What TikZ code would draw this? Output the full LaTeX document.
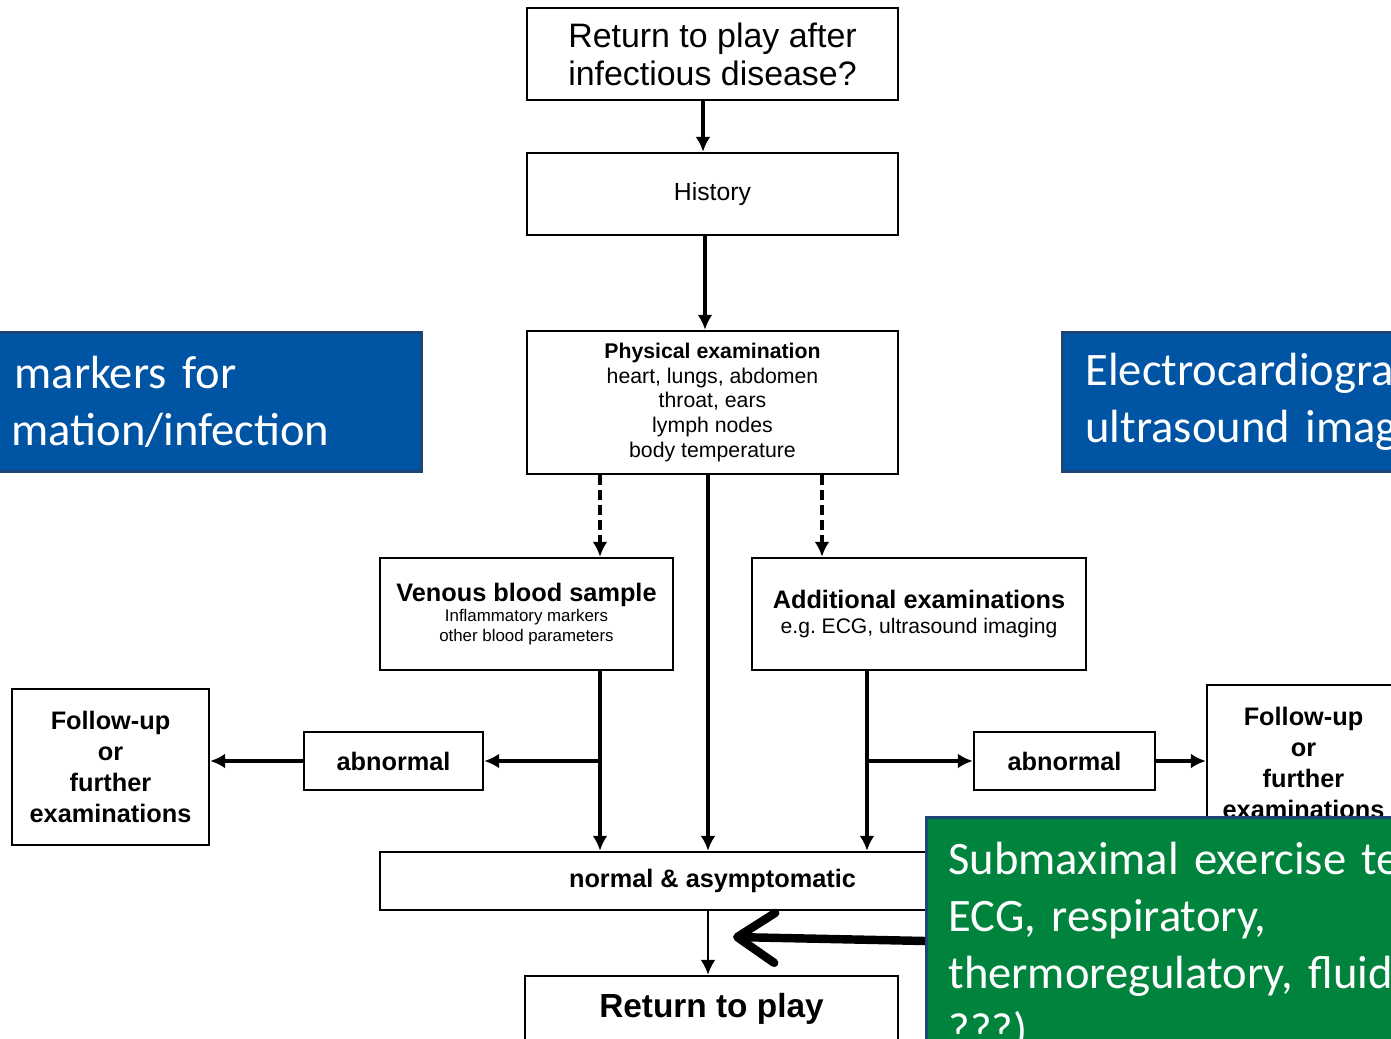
\documentclass[tikz,border=0pt]{standalone}
\usepackage{fontspec}
\setmainfont{Liberation Sans}
\newfontfamily\calibri{Carlito}
\newcommand\notefont{\calibri\fontsize{26.5}{32.4}\selectfont\spaceskip 0.24em\relax}
\usetikzlibrary{arrows.meta}
\definecolor{noteblue}{RGB}{0,84,164}
\definecolor{noteedge}{RGB}{31,68,118}
\definecolor{notegreen}{RGB}{0,132,61}

\begin{document}
\frenchspacing
\begin{tikzpicture}[line width=2.2pt, >={Latex[length=0.3cm,width=0.3cm]}]
		\tikzstyle{box}=[draw,shape=rectangle,line width=1.4pt,align=center,inner sep=0pt]
		\tikzstyle{bold_small}=[font=\bfseries\fontsize{14.4}{17.6}\selectfont]
		\tikzstyle{note}=[draw=noteedge,line width=1.7pt,text=white,align=left,inner sep=0pt,font=\notefont]
		\tikzstyle{dash_arrow}=[->,line width=2.8pt,dash pattern=on 0.2cm off 0.1cm]

		\useasboundingbox (0,0) rectangle (27.82,20.78);
		\clip (0,0) rectangle (27.82,20.78);

		\node[box,minimum width=7.42cm,minimum height=1.84cm,font=\fontsize{19.3}{21.6}\selectfont](q) at (14.25,19.70){Return to play after\\infectious disease?};
		\node[box,minimum width=7.42cm,minimum height=1.64cm,font=\fontsize{14.1}{17}\selectfont](hist) at (14.25,16.90){History};
		\node[box,minimum width=7.42cm,minimum height=2.86cm,font=\fontsize{12.1}{14.2}\selectfont](phys) at (14.25,12.73){\textbf{Physical examination}\\heart, lungs, abdomen\\throat, ears\\lymph nodes\\body temperature};

		\node[box,minimum width=5.86cm,minimum height=2.24cm,font=\fontsize{9.6}{11.4}\selectfont](venous) at (10.53,8.50){{\bfseries\fontsize{14.4}{17}\selectfont Venous blood sample}\\Inflammatory markers\\other blood parameters};
		\node[box,minimum width=6.68cm,minimum height=2.24cm,font=\fontsize{12}{14}\selectfont](addit) at (18.38,8.50){{\bfseries\fontsize{14.4}{17}\selectfont Additional examinations}\\e.g. ECG, ultrasound imaging};

		\node[box,bold_small,minimum width=3.94cm,minimum height=3.12cm](fupl) at (2.21,5.44){Follow-up\\or\\further\\examinations};
		\node[box,bold_small,minimum width=3.58cm,minimum height=1.16cm](abnl) at (7.87,5.56){abnormal};
		\node[box,bold_small,minimum width=3.62cm,minimum height=1.16cm](abnr) at (21.29,5.56){abnormal};
		\node[box,bold_small,minimum width=3.86cm,minimum height=3.12cm](fupr) at (26.07,5.52){Follow-up\\or\\further\\examinations};

		\node[box,bold_small,minimum width=13.3cm,minimum height=1.16cm](normal) at (14.25,3.16){normal \& asymptomatic};
		\node[box,minimum width=7.46cm,minimum height=1.30cm,font=\bfseries\fontsize{19}{22}\selectfont](ret) at (14.23,0.61){Return to play};

		\draw[->] ([xshift=-0.19cm]q.south) -- ([xshift=-0.19cm]q.south |- hist.north);
		\draw[->] ([xshift=-0.15cm]hist.south) -- ([xshift=-0.15cm]hist.south |- phys.north);
		\draw[->] ([xshift=-0.09cm]phys.south) -- ([xshift=-0.09cm]phys.south |- normal.north);

		\foreach \dx/\t in {-2.25/venous,2.19/addit}
		{
		  \draw[dash_arrow] ([xshift=\dx cm]phys.south) -- ([xshift=\dx cm]phys.south |- \t.north);
		}

		\coordinate (vb) at ([xshift=1.47cm]venous.south);
		\coordinate (ab) at ([xshift=-1.04cm]addit.south);
		\draw[->] (vb) -- (vb |- normal.north);
		\draw[->] (ab) -- (ab |- normal.north);
		\draw[->] (vb |- abnl.east) -- (abnl.east);
		\draw[->] (abnl.west) -- (abnl.west -| fupl.east);
		\draw[->] (ab |- abnr.west) -- (abnr.west);
		\draw[->] (abnr.east) -- (abnr.east -| fupr.west);
		\draw[->,line width=1.3pt] ([xshift=-0.09cm]normal.south) -- ([xshift=-0.09cm]normal.south |- ret.north);

		\node[note,fill=noteblue,anchor=north west,inner xsep=0.5cm,text width=7.7cm,minimum height=2.78cm](bloodnote) at (-0.3,14.16){\hspace*{0.06cm}markers for\\mation/infection};
		\node[note,fill=noteblue,anchor=north west,inner xsep=0.46cm,text width=8cm,minimum height=2.78cm](ecgnote) at (21.22,14.16){Electrocardiogra\\ultrasound imag};
		\node[note,fill=notegreen,anchor=north west,inner xsep=0.44cm,inner ysep=0.5cm,text width=12cm](exnote) at (18.5,4.46){Submaximal exercise te\\ECG, respiratory,\\thermoregulatory, fluid\\???)};

		\coordinate (tip) at (14.66,2.04);
		\draw[line width=4.8pt,-{Straight Barb[length=0.75cm,width=1.0cm,line cap=round,line join=round]}] ([yshift=-2.5cm]exnote.north west) -- (tip);
\end{tikzpicture}
\end{document}
